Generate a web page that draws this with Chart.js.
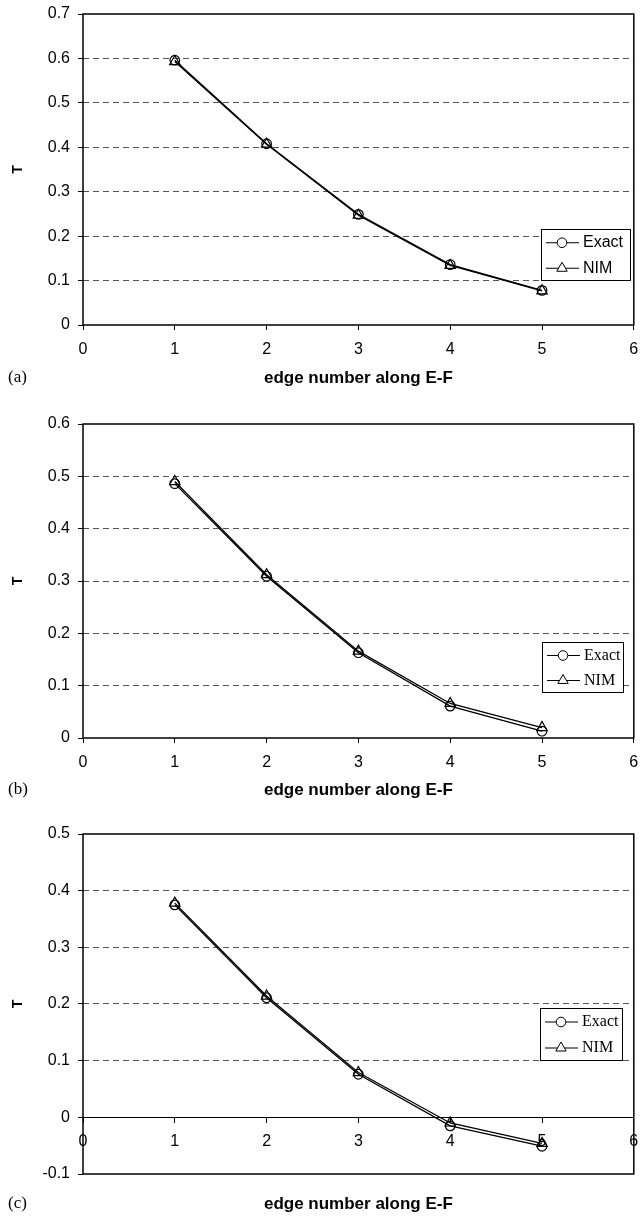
<!DOCTYPE html>
<html>
<head>
<meta charset="utf-8">
<script src="https://cdn.jsdelivr.net/npm/chart.js@4.4.1/dist/chart.umd.min.js"></script>
<style>
  html, body { margin: 0; padding: 0; background: #fff; }
  .panel { position: absolute; left: 0; width: 641px; }
  #pa { top: 0; height: 400px; }
  #pb { top: 400px; height: 400px; }
  #pc { top: 800px; height: 417px; }
</style>
</head>
<body>
<div class="panel" id="pa"><canvas id="chartA"></canvas></div>
<div class="panel" id="pb"><canvas id="chartB"></canvas></div>
<div class="panel" id="pc"><canvas id="chartC"></canvas></div>
<script>
// edge numbers along E-F and the tick values of the x axis
const edges = [1, 2, 3, 4, 5];
const xTicks = [0, 1, 2, 3, 4, 5, 6];

// panel (a)
const exactA = [0.596, 0.408, 0.249, 0.136, 0.078];
const nimA = [0.593, 0.407, 0.247, 0.134, 0.077];
const yTicksA = [0, 0.1, 0.2, 0.3, 0.4, 0.5, 0.6, 0.7];

// panel (b)
const exactB = [0.486, 0.309, 0.163, 0.061, 0.013];
const nimB = [0.490, 0.312, 0.166, 0.066, 0.020];
const yTicksB = [0, 0.1, 0.2, 0.3, 0.4, 0.5, 0.6];

// panel (c)
const exactC = [0.375, 0.211, 0.076, -0.015, -0.051];
const nimC = [0.378, 0.214, 0.079, -0.010, -0.046];
const yTicksC = [-0.1, 0, 0.1, 0.2, 0.3, 0.4, 0.5];

const seriesNames = ['Exact', 'NIM'];
const xTitle = 'edge number along E-F';

const sans = "'Liberation Sans', Arial, Helvetica, sans-serif";
const serif = "'Liberation Serif', 'Times New Roman', serif";

// box round the plot area
const framePlugin = {
  id: 'frame',
  beforeDatasetsDraw(chart) {
    const { ctx, chartArea: a } = chart;
    ctx.save();
    ctx.strokeStyle = '#000';
    ctx.lineWidth = 1.5;
    ctx.strokeRect(a.left, a.top, a.right - a.left, a.bottom - a.top);
    ctx.restore();
  }
};

// legend inside the plot: line with marker through it
const boxLegendPlugin = {
  id: 'boxLegend',
  afterDatasetsDraw(chart, args, o) {
    const ctx = chart.ctx;
    ctx.save();
    ctx.fillStyle = '#fff';
    ctx.fillRect(o.x, o.y, o.w, o.h);
    ctx.strokeStyle = '#000';
    ctx.lineWidth = 1;
    ctx.strokeRect(o.x + 0.5, o.y + 0.5, o.w, o.h);
    chart.data.datasets.forEach((ds, i) => {
      const cy = o.y + o.h * (2 * i + 1) / 4 + 1;
      ctx.strokeStyle = '#000';
      ctx.lineWidth = 1;
      ctx.beginPath();
      ctx.moveTo(o.x + 5, cy);
      ctx.lineTo(o.x + 38, cy);
      ctx.stroke();
      const cx = o.x + 21;
      ctx.fillStyle = '#fff';
      ctx.beginPath();
      if (ds.pointStyle === 'triangle') {
        const r = ds.pointRadius;
        ctx.moveTo(cx, cy - r);
        ctx.lineTo(cx + Math.sin(2 * Math.PI / 3) * r, cy + r / 2);
        ctx.lineTo(cx - Math.sin(2 * Math.PI / 3) * r, cy + r / 2);
        ctx.closePath();
      } else {
        ctx.arc(cx, cy, ds.pointRadius, 0, Math.PI * 2);
      }
      ctx.fill();
      ctx.stroke();
      ctx.fillStyle = '#000';
      ctx.font = o.font;
      ctx.textBaseline = 'middle';
      ctx.textAlign = 'left';
      ctx.fillText(ds.label, o.x + 42, cy);
    });
    ctx.restore();
  }
};

// x axis title under the plot and the panel letter
const captionPlugin = {
  id: 'caption',
  afterDraw(chart, args, o) {
    const { ctx, chartArea: a } = chart;
    ctx.save();
    ctx.fillStyle = '#000';
    ctx.textBaseline = 'middle';
    ctx.textAlign = 'center';
    ctx.font = "bold 17px " + sans;
    ctx.fillText(o.title, (a.left + a.right) / 2, o.titleY);
    ctx.textAlign = 'left';
    ctx.font = "17px " + serif;
    ctx.fillText(o.letter, 8, o.titleY);
    ctx.restore();
  }
};

function makeChart(id, p) {
  const ctx = document.getElementById(id).getContext('2d');
  const yMin = p.yTicks[0];
  const yMax = p.yTicks[p.yTicks.length - 1];
  const toPoints = vals => edges.map((x, i) => ({ x: x, y: vals[i] }));
  return new Chart(ctx, {
    type: 'line',
    data: {
      datasets: [
        {
          label: seriesNames[0],
          data: toPoints(p.exact),
          borderColor: '#000',
          borderWidth: 1.3,
          pointStyle: 'circle',
          pointRadius: 4.8,
          pointBorderColor: '#000',
          pointBackgroundColor: 'rgba(255,255,255,0)',
          pointBorderWidth: 1.2,
          tension: 0
        },
        {
          label: seriesNames[1],
          data: toPoints(p.nim),
          borderColor: '#000',
          borderWidth: 1.3,
          pointStyle: 'triangle',
          pointRadius: 6,
          pointBorderColor: '#000',
          pointBackgroundColor: 'rgba(255,255,255,0)',
          pointBorderWidth: 1.2,
          tension: 0
        }
      ]
    },
    options: {
      responsive: true,
      maintainAspectRatio: false,
      animation: false,
      layout: { padding: { top: p.top, right: 3, bottom: p.bottomPad, left: 0 } },
      scales: {
        x: {
          type: 'linear',
          min: 0,
          max: 6,
          position: p.zeroAxis ? { y: 0 } : 'bottom',
          afterBuildTicks: s => { s.ticks = xTicks.map(v => ({ value: v })); },
          afterFit: s => {
            s.paddingLeft = 0;
            s.paddingRight = 0;
            if (!p.zeroAxis) s.height = p.xAxisH;
          },
          grid: { drawOnChartArea: false, drawTicks: true, tickLength: 5, tickColor: '#000', tickWidth: 1 },
          border: { display: !!p.zeroAxis, color: '#000', width: 1 },
          ticks: { color: '#000', font: { family: sans, size: 16 }, padding: 10, maxRotation: 0, autoSkip: false }
        },
        y: {
          type: 'linear',
          min: yMin,
          max: yMax,
          afterBuildTicks: s => { s.ticks = p.yTicks.map(v => ({ value: v })); },
          afterFit: s => {
            s.width = 83;
            s.paddingTop = 0;
            s.paddingBottom = 0;
          },
          grid: {
            drawTicks: true,
            tickLength: 5,
            tickColor: '#000',
            tickWidth: 1,
            lineWidth: 1,
            color: c => {
              const v = c.tick ? c.tick.value : null;
              if (v === null) return 'rgba(0,0,0,0)';
              if (Math.abs(v - yMin) < 1e-9 || Math.abs(v - yMax) < 1e-9 || Math.abs(v) < 1e-9) return 'rgba(0,0,0,0)';
              return '#555';
            }
          },
          border: { display: false, dash: [6, 4] },
          ticks: {
            color: '#000',
            font: { family: sans, size: 16 },
            padding: 8,
            callback: v => String(v)
          },
          title: {
            display: true,
            text: 'T',
            color: '#000',
            font: { family: sans, size: 14, weight: 'bold' },
            padding: { top: 10, bottom: 0 }
          }
        }
      },
      plugins: {
        legend: { display: false },
        tooltip: { enabled: false },
        boxLegend: p.legend,
        caption: { title: xTitle, titleY: p.titleY, letter: p.letter }
      }
    },
    plugins: [framePlugin, boxLegendPlugin, captionPlugin]
  });
}

makeChart('chartA', {
  exact: exactA, nim: nimA, yTicks: yTicksA,
  top: 14, bottomPad: 0, xAxisH: 75, titleY: 378, letter: '(a)',
  legend: { x: 541, y: 229, w: 89, h: 51, font: "16px " + sans }
});

makeChart('chartB', {
  exact: exactB, nim: nimB, yTicks: yTicksB,
  top: 24, bottomPad: 0, xAxisH: 62, titleY: 390, letter: '(b)',
  legend: { x: 542, y: 242, w: 81, h: 50, font: "16px " + serif }
});

makeChart('chartC', {
  exact: exactC, nim: nimC, yTicks: yTicksC, zeroAxis: true,
  top: 34, bottomPad: 43, titleY: 404, letter: '(c)',
  legend: { x: 540, y: 208, w: 82, h: 52, font: "16px " + serif }
});
</script>
</body>
</html>
